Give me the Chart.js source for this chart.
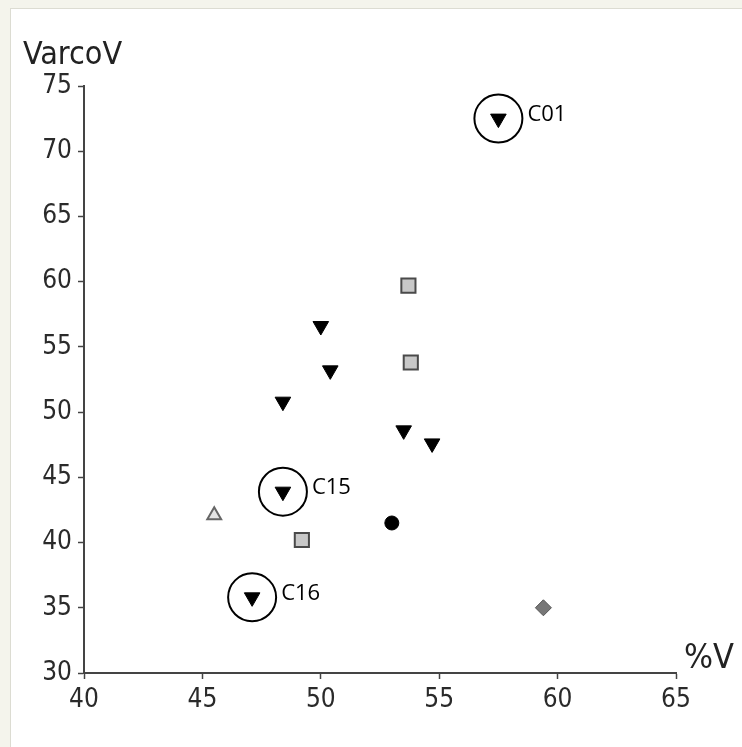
<!DOCTYPE html>
<html>
<head>
<meta charset="utf-8">
<script src="https://cdn.jsdelivr.net/npm/chart.js@4"></script>
<style>
body{margin:0;background:#f4f4ec;}
#frame{position:absolute;left:10px;top:8px;width:732px;height:739px;background:#fff;border-top:1px solid #dcdcd2;border-left:1px solid #dcdcd2;}
canvas{display:block;}
</style>
</head>
<body>
<div id="frame"><canvas id="plot" width="731" height="738"></canvas></div>
<script>
// %V / VarcoV values
var downX=[57.5,50.0,50.4,48.4,53.5,54.7,48.4,47.1];
var downY=[72.5,56.6,53.2,50.8,48.6,47.6,43.9,35.8];
var squareX=[53.7,53.8,49.2];
var squareY=[59.7,53.8,40.2];
var upX=[45.5];
var upY=[42.1];
var dotX=[53.0];
var dotY=[41.5];
var diamondX=[59.4];
var diamondY=[35.0];
// circled points
var markNames=['C01','C15','C16'];
var markX=[57.5,48.4,47.1];
var markY=[72.5,43.9,35.8];
var xTicks=[40,45,50,55,60,65];
var yTicks=[30,35,40,45,50,55,60,65,70,75];

function pts(xs,ys){
	var out=[];
	for(var i=0;i<xs.length;i++){ out.push({x:xs[i],y:ys[i]}); }
	return out;
}

var narrow='"Liberation Sans Narrow","DejaVu Sans Condensed",Arial,sans-serif';
var tickFont={family:narrow,size:26};

var textPlugin={
	id:'texts',
	afterDatasetsDraw:function(chart){
		var c=chart.ctx, a=chart.chartArea;
		var xs=chart.scales.x, ys=chart.scales.y;
		c.save();
		c.fillStyle='#000';
		c.font='22px "Open Sans",sans-serif';
		c.textBaseline='middle';
		c.textAlign='left';
		for(var i=0;i<markNames.length;i++){
			c.fillText(markNames[i],xs.getPixelForValue(markX[i])+29,ys.getPixelForValue(markY[i])-4);
		}
		c.fillStyle='#222';
		c.textBaseline='alphabetic';
		c.font='32px '+narrow;
		c.fillText('VarcoV',a.left-61,a.top-22);
		c.font='34px '+narrow;
		c.fillText('%V',a.right+8,a.bottom-5);
		c.restore();
	}
};

var chart=new Chart(document.getElementById('plot').getContext('2d'),{
	type:'scatter',
	data:{
		datasets:[{
			label:'down',
			data:pts(downX,downY),
			pointStyle:'triangle',
			rotation:180,
			pointRadius:9,
			backgroundColor:'#000',
			borderColor:'#000',
			borderWidth:1
		},{
			label:'square',
			data:pts(squareX,squareY),
			pointStyle:'rect',
			pointRadius:10,
			backgroundColor:'#c8c8c8',
			borderColor:'#4a4a4a',
			borderWidth:2
		},{
			label:'up',
			data:pts(upX,upY),
			pointStyle:'triangle',
			pointRadius:8,
			backgroundColor:'#e4e4e4',
			borderColor:'#666',
			borderWidth:2
		},{
			label:'dot',
			data:pts(dotX,dotY),
			pointStyle:'circle',
			pointRadius:7,
			backgroundColor:'#000',
			borderColor:'#000',
			borderWidth:1
		},{
			label:'diamond',
			data:pts(diamondX,diamondY),
			pointStyle:'rectRot',
			pointRadius:8,
			backgroundColor:'#777',
			borderColor:'#555',
			borderWidth:1
		},{
			label:'rings',
			data:pts(markX,markY),
			pointStyle:'circle',
			pointRadius:24,
			backgroundColor:'rgba(0,0,0,0)',
			borderColor:'#000',
			borderWidth:2
		}]
	},
	options:{
		responsive:false,
		animation:false,
		devicePixelRatio:1,
		layout:{padding:{left:0,top:77,right:66,bottom:0}},
		plugins:{legend:{display:false},tooltip:{enabled:false}},
		scales:{
			x:{
				type:'linear',
				min:40,max:65,
				afterBuildTicks:function(s){ s.ticks=xTicks.map(function(v){return {value:v};}); },
				afterFit:function(s){ s.height=74; },
				ticks:{color:'#2a2a2a',font:tickFont,padding:6,maxRotation:0},
				grid:{drawOnChartArea:false,tickLength:6,tickColor:'#444',tickWidth:1.5},
				border:{color:'#444',width:2}
			},
			y:{
				type:'linear',
				min:30,max:75,
				afterBuildTicks:function(s){ s.ticks=yTicks.map(function(v){return {value:v};}); },
				afterFit:function(s){ s.width=73; },
				ticks:{color:'#2a2a2a',font:tickFont,padding:6},
				grid:{drawOnChartArea:false,tickLength:6,tickColor:'#444',tickWidth:1.5},
				border:{color:'#444',width:2}
			}
		}
	},
	plugins:[textPlugin]
});
</script>
</body>
</html>
